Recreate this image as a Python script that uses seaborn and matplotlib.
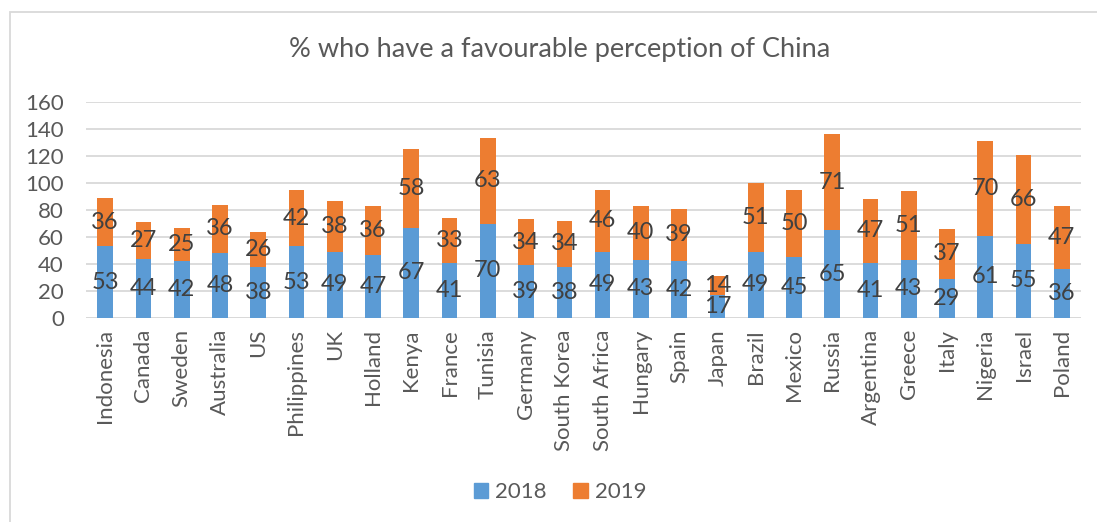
import matplotlib
matplotlib.use("Agg")
import numpy as np
import pandas as pd
import seaborn as sns
import matplotlib.pyplot as plt
from matplotlib.patches import Rectangle

countries = ["Indonesia", "Canada", "Sweden", "Australia", "US", "Philippines", "UK",
             "Holland", "Kenya", "France", "Tunisia", "Germany", "South Korea",
             "South Africa", "Hungary", "Spain", "Japan", "Brazil", "Mexico", "Russia",
             "Argentina", "Greece", "Italy", "Nigeria", "Israel", "Poland"]
values_2018 = [53, 44, 42, 48, 38, 53, 49, 47, 67, 41, 70, 39, 38, 49, 43, 42, 17, 49,
               45, 65, 41, 43, 29, 61, 55, 36]
values_2019 = [36, 27, 25, 36, 26, 42, 38, 36, 58, 33, 63, 34, 34, 46, 40, 39, 14, 51,
               50, 71, 47, 51, 37, 70, 66, 47]
y_ticks = [0, 20, 40, 60, 80, 100, 120, 140, 160]

BLUE = "#5B9BD5"
ORANGE = "#ED7D31"
GREY_TXT = "#595959"
DARK_TXT = "#404040"

sns.set_theme(style="white")
plt.rcParams["font.family"] = ["Lato", "DejaVu Sans"]

df = pd.DataFrame({"country": countries, "y2018": values_2018, "y2019": values_2019})
df["total"] = df["y2018"] + df["y2019"]

fig = plt.figure(figsize=(10.97, 5.22), dpi=100)
W, H = 1097, 522
ax = fig.add_axes([86 / W, 1 - 318 / H, (1081 - 86) / W, (318 - 102) / H])

# totals in orange first, then the 2018 part over it in blue
sns.barplot(data=df, x="country", y="total", color=ORANGE, width=0.41,
            saturation=1, ax=ax, linewidth=0)
sns.barplot(data=df, x="country", y="y2018", color=BLUE, width=0.41,
            saturation=1, ax=ax, linewidth=0)

blue_bars = ax.containers[1]
orange_bars = ax.containers[0]
for bar, v in zip(blue_bars, values_2018):
    ax.text(bar.get_x() + bar.get_width() / 2, v / 2, str(v), ha="center",
            va="center", fontsize=17, color=DARK_TXT)
for bar, v0, v in zip(orange_bars, values_2018, values_2019):
    ax.text(bar.get_x() + bar.get_width() / 2, v0 + v / 2, str(v), ha="center",
            va="center", fontsize=17, color=DARK_TXT)

ax.set_ylim(0, 160)
ax.set_yticks(y_ticks)
ax.set_xlim(-0.5, len(countries) - 0.5)
ax.grid(axis="y", color="#D9D9D9", linewidth=1.3)
ax.set_axisbelow(True)
for s in ax.spines.values():
    s.set_visible(False)
ax.axhline(0, color="#D9D9D9", linewidth=1.3, zorder=0.5)
ax.tick_params(axis="y", labelsize=16, labelcolor=GREY_TXT, length=0, pad=16)
ax.tick_params(axis="x", labelsize=16, labelcolor=GREY_TXT, length=0, pad=8)
plt.setp(ax.get_xticklabels(), rotation=90)
ax.set_xlabel("")
ax.set_ylabel("")

handles = [Rectangle((0, 0), 1, 1, color=BLUE), Rectangle((0, 0), 1, 1, color=ORANGE)]
fig.legend(handles, ["2018", "2019"], loc="center", bbox_to_anchor=(560 / W, 1 - 492 / H),
           ncol=2, frameon=False, fontsize=16, handlelength=0.65, handleheight=0.65,
           handletextpad=0.3, columnspacing=1.2, labelcolor=GREY_TXT)

fig.text(560 / W, 1 - 50 / H, "% who have a favourable perception of China",
         ha="center", va="center", fontsize=19.5, color=GREY_TXT)

# chart frame, cut off at the right and bottom like the source crop
fig.patches.append(Rectangle((10 / W, -0.05), 1.1, 1 - 12 / H + 0.05,
                             transform=fig.transFigure, fill=False,
                             edgecolor="#D9D9D9", linewidth=1.3))

fig.savefig("out.png", dpi=100)
